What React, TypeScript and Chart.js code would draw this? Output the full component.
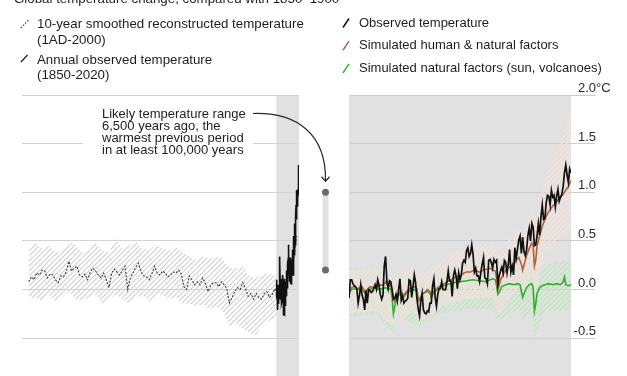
import React, { useEffect, useRef } from 'react';
import { Chart, registerables } from 'chart.js';

Chart.register(...registerables);

// ---------- text ----------
const TITLE = 'Global temperature change, compared with 1850–1900';
const LEFT_LEGEND = [
  ['10-year smoothed reconstructed temperature', '(1AD-2000)'],
  ['Annual observed temperature', '(1850-2020)'],
];
const RIGHT_LEGEND = [
  'Observed temperature',
  'Simulated human & natural factors',
  'Simulated natural factors (sun, volcanoes)',
];
const NOTE = [
  'Likely temperature range',
  '6,500 years ago, the',
  'warmest previous period',
  'in at least 100,000 years',
];

// ---------- axes ----------
const yTicks = [-0.5, 0, 0.5, 1.0, 1.5, 2.0];
const yMin = -0.889;
const yMax = 2.0;
const leftXMin = -50;
const leftXMax = 2020;
const rightXMin = 1850;
const rightXMax = 2020;

// likely range 6,500 years ago
const likelyRange = [0.2, 1.0];

// ---------- reconstructed (10-year smoothed) ----------
const reconYears = [
  0, 20, 40, 60, 80, 100, 120, 140, 160, 180, 200, 220, 240, 260, 280, 300, 320, 340, 360, 380,
  400, 420, 440, 460, 480, 500, 520, 540, 560, 580, 600, 620, 640, 660, 680, 700, 720, 740, 760, 780,
  800, 820, 840, 860, 880, 900, 920, 940, 960, 980, 1000, 1020, 1040, 1060, 1080, 1100, 1120, 1140, 1160, 1180,
  1200, 1220, 1240, 1260, 1280, 1300, 1320, 1340, 1360, 1380, 1400, 1420, 1440, 1460, 1480, 1500, 1520, 1540, 1560, 1580,
  1600, 1620, 1640, 1660, 1680, 1700, 1720, 1740, 1760, 1780, 1800, 1820, 1840, 1860, 1880, 1900, 1920, 1940, 1960, 1980, 2000,
];
const reconValues = [
  0.08, 0.13, 0.10, 0.17, 0.15, 0.20, 0.19, 0.12, 0.16, 0.15, 0.10, 0.07, 0.14, 0.13, 0.18, 0.29, 0.19, 0.22, 0.24, 0.15,
  0.13, 0.16, 0.10, 0.18, 0.22, 0.19, 0.15, 0.12, 0.17, 0.10, 0.02, 0.17, 0.21, 0.18, 0.15, 0.20, 0.24, 0.00, 0.12, 0.17,
  0.23, 0.27, 0.18, 0.14, 0.13, 0.10, 0.16, 0.24, 0.17, 0.15, 0.19, 0.17, 0.13, 0.15, 0.18, 0.17, 0.20, 0.16, 0.03, 0.00,
  0.14, 0.10, 0.05, 0.08, 0.05, 0.12, 0.06, -0.02, 0.04, 0.07, 0.07, 0.03, 0.08, 0.05, 0.01, -0.14, -0.08, -0.02, 0.02, 0.00,
  0.07, 0.01, -0.07, -0.04, -0.10, -0.04, -0.08, -0.10, -0.04, -0.02, -0.08, -0.05, 0.01, -0.07, -0.10, -0.06, 0.02, 0.12, 0.15, 0.30, 0.55,
];
const reconBandYears = [
  0, 50, 100, 150, 200, 250, 300, 350, 400, 450, 500, 550, 600, 650, 700, 750, 800, 850, 900, 950,
  1000, 1050, 1100, 1150, 1200, 1250, 1300, 1350, 1400, 1450, 1500, 1550, 1600, 1650, 1700, 1750, 1800, 1850,
];
const reconUpper = [
  0.40, 0.48, 0.42, 0.45, 0.38, 0.40, 0.50, 0.46, 0.38, 0.42, 0.48, 0.40, 0.38, 0.52, 0.42, 0.45, 0.50, 0.42, 0.40, 0.46,
  0.42, 0.40, 0.44, 0.38, 0.34, 0.30, 0.34, 0.32, 0.34, 0.32, 0.22, 0.22, 0.24, 0.14, 0.12, 0.16, 0.17, 0.14,
];
const reconLower = [
  -0.10, -0.08, -0.12, -0.05, -0.12, -0.08, -0.02, -0.10, -0.12, -0.08, -0.05, -0.15, -0.10, -0.05, -0.10, -0.15, -0.08, -0.06, -0.12, -0.06,
  -0.05, -0.10, -0.08, -0.15, -0.14, -0.18, -0.15, -0.20, -0.18, -0.22, -0.38, -0.35, -0.40, -0.45, -0.47, -0.36, -0.32, -0.28,
];

// ---------- observed annual, 1850-2020 ----------
const obsStartYear = 1850;
const obsValues = [
  -0.09, 0.10, 0.10, 0.06, 0.04, 0.03, 0.01, -0.14, -0.06, 0.05,
  -0.06, -0.10, -0.21, -0.01, -0.14, 0.00, -0.01, -0.03, -0.02, 0.01,
  0.05, 0.00, 0.10, 0.04, -0.05, -0.10, -0.06, 0.24, 0.34, 0.09,
  0.01, 0.09, 0.08, 0.00, -0.10, -0.09, -0.05, -0.12, 0.00, 0.11,
  -0.11, -0.07, -0.14, -0.12, -0.11, -0.09, 0.10, 0.09, -0.08, 0.03,
  0.15, 0.07, -0.09, -0.20, -0.27, -0.12, -0.04, -0.21, -0.24, -0.25,
  -0.22, -0.23, -0.14, -0.14, 0.04, 0.11, -0.08, -0.17, -0.05, 0.01,
  0.01, 0.08, 0.00, 0.00, 0.00, 0.08, 0.19, 0.09, 0.09, -0.07,
  0.14, 0.20, 0.14, 0.01, 0.17, 0.10, 0.15, 0.27, 0.30, 0.28,
  0.40, 0.43, 0.34, 0.37, 0.46, 0.36,
  0.18, 0.22, 0.14, 0.14, 0.08, 0.18, 0.26, 0.33, 0.12, 0.11,
  0.06, 0.30, 0.31, 0.28, 0.22, 0.31, 0.28, 0.30, 0.05, 0.14,
  0.19, 0.23, 0.17, 0.30, 0.28, 0.17, 0.26, 0.41, 0.18, 0.24,
  0.15, 0.43, 0.32, 0.41,
  0.51, 0.55, 0.37, 0.54, 0.39, 0.35, 0.41, 0.56, 0.63, 0.50,
  0.68, 0.64, 0.45, 0.46, 0.55, 0.68, 0.56, 0.75, 0.87, 0.72,
  0.73, 0.89, 0.97, 0.96, 0.87, 1.02, 0.95, 0.97, 0.85, 0.96,
  1.03, 0.91, 0.95, 0.98, 1.06, 1.20, 1.28, 1.18, 1.10, 1.24, 1.20,
];

// ---------- simulated: human & natural ----------
const humYears = [
  1850, 1852, 1854, 1856, 1858, 1860, 1862, 1864, 1866, 1868, 1870, 1872, 1874, 1876, 1878, 1880, 1882, 1884, 1885, 1886,
  1888, 1890, 1892, 1894, 1896, 1898, 1900, 1902, 1903, 1904, 1906, 1908, 1910, 1912, 1913, 1915, 1918, 1920, 1922, 1925,
  1928, 1930, 1932, 1935, 1938, 1940, 1943, 1946, 1948, 1950, 1953, 1956, 1958, 1960, 1962, 1963, 1964, 1965, 1966, 1968,
  1970, 1972, 1974, 1976, 1978, 1980, 1982, 1983, 1984, 1986, 1988, 1990, 1991, 1992, 1993, 1994, 1996, 1998, 2000, 2002,
  2004, 2006, 2008, 2010, 2012, 2014, 2016, 2018, 2020,
];
const humValues = [
  -0.05, 0.02, 0.03, 0.00, 0.02, 0.03, -0.02, 0.00, 0.03, 0.02, 0.04, 0.03, 0.05, 0.04, 0.08, 0.03, 0.05, -0.10, -0.12, -0.06,
  -0.04, -0.02, -0.06, -0.02, 0.00, 0.02, 0.03, 0.01, -0.12, -0.10, -0.05, -0.03, 0.00, -0.02, -0.08, -0.02, 0.02, 0.04, 0.05, 0.08,
  0.10, 0.12, 0.13, 0.14, 0.17, 0.18, 0.18, 0.20, 0.19, 0.18, 0.20, 0.21, 0.22, 0.20, 0.19, 0.12, 0.00, 0.04, 0.10, 0.15,
  0.20, 0.22, 0.24, 0.26, 0.30, 0.33, 0.26, 0.20, 0.25, 0.35, 0.42, 0.48, 0.45, 0.24, 0.30, 0.45, 0.55, 0.65, 0.72, 0.78,
  0.82, 0.86, 0.88, 0.92, 0.95, 0.98, 1.02, 1.06, 1.12,
];
const humBandYears = [1850, 1870, 1884, 1900, 1904, 1920, 1940, 1960, 1964, 1980, 1983, 1990, 1992, 2000, 2010, 2020];
const humUpper = [0.20, 0.22, 0.12, 0.25, 0.15, 0.28, 0.45, 0.50, 0.35, 0.65, 0.55, 0.85, 0.65, 1.15, 1.45, 1.85];
const humLower = [-0.25, -0.22, -0.38, -0.22, -0.35, -0.18, -0.10, -0.08, -0.25, 0.00, -0.05, 0.15, -0.05, 0.35, 0.50, 0.65];

// ---------- simulated: natural only ----------
const natYears = [
  1850, 1852, 1855, 1858, 1860, 1862, 1865, 1868, 1870, 1873, 1876, 1878, 1880, 1882, 1883, 1884, 1885, 1886, 1888, 1890,
  1892, 1894, 1896, 1898, 1900, 1902, 1903, 1904, 1906, 1908, 1910, 1912, 1913, 1915, 1918, 1920, 1925, 1930, 1935, 1940,
  1945, 1950, 1955, 1958, 1960, 1962, 1963, 1964, 1965, 1967, 1970, 1973, 1976, 1979, 1981, 1982, 1983, 1984, 1986, 1988,
  1990, 1991, 1992, 1993, 1994, 1996, 1998, 2000, 2003, 2006, 2009, 2012, 2014, 2015, 2016, 2018, 2020,
];
const natValues = [
  -0.03, 0.00, 0.01, 0.00, 0.02, -0.04, 0.00, 0.01, 0.02, 0.00, 0.01, 0.02, 0.00, 0.01, -0.08, -0.25, -0.18, -0.10, -0.06, -0.04,
  -0.08, -0.04, -0.02, -0.01, 0.00, -0.02, -0.12, -0.10, -0.05, -0.03, -0.02, -0.04, -0.08, -0.03, 0.00, 0.03, 0.05, 0.07, 0.08, 0.09,
  0.10, 0.09, 0.08, 0.10, 0.11, 0.10, 0.04, -0.05, -0.03, 0.03, 0.05, 0.06, 0.05, 0.06, 0.05, -0.02, -0.08, -0.04, 0.02, 0.05,
  0.06, 0.02, -0.22, -0.15, -0.04, 0.02, 0.04, 0.05, 0.06, 0.05, 0.06, 0.05, 0.08, 0.13, 0.05, 0.04, 0.05,
];
const natBandYears = [1850, 1870, 1884, 1890, 1904, 1920, 1940, 1960, 1964, 1980, 1983, 1990, 1992, 2000, 2010, 2020];
const natUpper = [0.22, 0.22, 0.05, 0.18, 0.10, 0.22, 0.28, 0.30, 0.15, 0.28, 0.18, 0.28, 0.05, 0.25, 0.28, 0.32];
const natLower = [-0.28, -0.25, -0.45, -0.30, -0.38, -0.25, -0.20, -0.20, -0.32, -0.20, -0.33, -0.20, -0.50, -0.22, -0.22, -0.20];

// ---------- style ----------
const FONT = '13px "Liberation Sans", Arial, sans-serif';
const FONT_LEFT = '13.3px "Liberation Sans", Arial, sans-serif';
const TEXT = '#1e1e1e';
const GRAY_BG = '#e1e1e1';
const GRID = '#d2d2d2';
const OBS_COLOR = '#111111';
const HUM_COLOR = '#b0623a';
const NAT_COLOR = '#2cb12f';

const pts = (xs: number[], ys: number[]) => xs.map((x, i) => ({ x, y: ys[i] }));

function hatch(color: string, size = 5, lw = 1.2) {
  const c = document.createElement('canvas');
  c.width = size;
  c.height = size;
  const g = c.getContext('2d')!;
  g.strokeStyle = color;
  g.lineWidth = lw;
  g.beginPath();
  g.moveTo(-1, size + 1);
  g.lineTo(size + 1, -1);
  g.moveTo(-1, 1);
  g.lineTo(1, -1);
  g.moveTo(size - 1, size + 1);
  g.lineTo(size + 1, size - 1);
  g.stroke();
  return g.createPattern(c, 'repeat')!;
}

const bandStyle = { borderColor: 'transparent', borderWidth: 0, pointRadius: 0, tension: 0 };
const lineStyle = { pointRadius: 0, tension: 0, fill: false };

function slash(ctx: CanvasRenderingContext2D, x0: number, y0: number, x1: number, y1: number, color: string, dash: number[] = [], lw = 1.4) {
  ctx.save();
  ctx.strokeStyle = color;
  ctx.lineWidth = lw;
  ctx.setLineDash(dash);
  ctx.beginPath();
  ctx.moveTo(x0, y0);
  ctx.lineTo(x1, y1);
  ctx.stroke();
  ctx.restore();
}

const leftDecor = {
  id: 'leftDecor',
  beforeDatasetsDraw(chart: any) {
    const { ctx, chartArea: a, scales } = chart;
    const xs = scales.x;
    const ys = scales.y;
    ctx.save();
    const bx = xs.getPixelForValue(obsStartYear);
    ctx.fillStyle = GRAY_BG;
    ctx.fillRect(bx, a.top, a.right - bx, a.bottom - a.top);
    ctx.strokeStyle = GRID;
    ctx.lineWidth = 1;
    for (const v of yTicks) {
      const py = Math.floor(ys.getPixelForValue(v)) + 0.5;
      ctx.beginPath();
      ctx.moveTo(a.left, py);
      ctx.lineTo(a.right, py);
      ctx.stroke();
    }
    // white box behind the note
    ctx.fillStyle = '#ffffff';
    ctx.fillRect(83, 104, 170, 54);
    ctx.restore();
  },
  afterDatasetsDraw(chart: any) {
    const { ctx, chartArea: a, scales } = chart;
    const ys = scales.y;
    ctx.save();
    ctx.font = FONT_LEFT;
    ctx.fillStyle = TEXT;
    ctx.textAlign = 'left';
    // title (cut at top)
    ctx.textBaseline = 'alphabetic';
    ctx.fillText(TITLE, 14, 3);
    ctx.textBaseline = 'middle';
    // legend
    ctx.fillText(LEFT_LEGEND[0][0], 37, 24);
    ctx.fillText(LEFT_LEGEND[0][1], 37, 40);
    ctx.fillText(LEFT_LEGEND[1][0], 37, 60.5);
    ctx.fillText(LEFT_LEGEND[1][1], 37, 75.5);
    slash(ctx, 21, 28, 28.5, 20, '#555', [1.6, 1.4], 1.2);
    slash(ctx, 21, 62, 27.5, 55, '#222', [], 1.3);
    // note
    ctx.font = FONT;
    NOTE.forEach((t, i) => ctx.fillText(t, 102, 114.5 + i * 12));
    // arrow
    const rx = a.right + 26.5;
    const yTop = ys.getPixelForValue(likelyRange[1]);
    const yBot = ys.getPixelForValue(likelyRange[0]);
    ctx.strokeStyle = '#2a2a2a';
    ctx.lineWidth = 1.2;
    ctx.beginPath();
    ctx.moveTo(253, 113.5);
    ctx.bezierCurveTo(298, 112, rx + 1, 135, rx, yTop - 11);
    ctx.stroke();
    ctx.beginPath();
    ctx.moveTo(rx - 4, yTop - 15.5);
    ctx.lineTo(rx, yTop - 11);
    ctx.lineTo(rx + 4, yTop - 15.5);
    ctx.stroke();
    // likely range bar
    ctx.fillStyle = '#e0e0e0';
    ctx.fillRect(rx - 3, yTop, 6, yBot - yTop);
    ctx.fillStyle = '#6b6b6b';
    for (const py of [yTop, yBot]) {
      ctx.beginPath();
      ctx.arc(rx, py, 3.5, 0, Math.PI * 2);
      ctx.fill();
    }
    ctx.restore();
  },
};

const rightDecor = {
  id: 'rightDecor',
  beforeDatasetsDraw(chart: any) {
    const { ctx, chartArea: a, scales } = chart;
    const ys = scales.y;
    ctx.save();
    ctx.fillStyle = GRAY_BG;
    ctx.fillRect(a.left, a.top, a.right - a.left, a.bottom - a.top);
    ctx.strokeStyle = '#cdcdcd';
    ctx.lineWidth = 1;
    for (const v of yTicks) {
      const py = Math.floor(ys.getPixelForValue(v)) + 0.5;
      ctx.beginPath();
      ctx.moveTo(a.left, py);
      ctx.lineTo(a.right + 24, py);
      ctx.stroke();
    }
    ctx.restore();
  },
  afterDraw(chart: any) {
    const { ctx, chartArea: a, scales } = chart;
    const ys = scales.y;
    ctx.save();
    ctx.font = FONT;
    ctx.fillStyle = '#2a2a2a';
    ctx.textBaseline = 'alphabetic';
    const lx = a.right + 25;
    for (const v of yTicks) {
      const py = ys.getPixelForValue(v) - 3;
      ctx.textAlign = 'right';
      ctx.fillText(v.toFixed(1), lx, py);
      if (v === yMax) {
        ctx.textAlign = 'left';
        ctx.fillText('°C', lx, py);
      }
    }
    // legend
    ctx.fillStyle = TEXT;
    ctx.textAlign = 'left';
    ctx.textBaseline = 'middle';
    const colors = [OBS_COLOR, HUM_COLOR, NAT_COLOR];
    RIGHT_LEGEND.forEach((t, i) => {
      const cy = 23 + i * 22.7;
      ctx.fillText(t, a.left + 10, cy);
      slash(ctx, a.left - 6, cy + 4.5, a.left, cy - 4.5, colors[i], [], 1.5);
    });
    ctx.restore();
  },
};

export default function App() {
  const leftRef = useRef<HTMLCanvasElement>(null);
  const rightRef = useRef<HTMLCanvasElement>(null);

  useEffect(() => {
    document.body.style.margin = '0';
    const common = {
      animation: false as const,
      responsive: false,
      maintainAspectRatio: false,
      events: [] as any[],
      plugins: { legend: { display: false }, tooltip: { enabled: false } },
    };

    const left = new Chart(leftRef.current!, {
      type: 'line',
      data: {
        datasets: [
          { data: pts(obsValues.map((_, i) => obsStartYear + i), obsValues), borderColor: OBS_COLOR, borderWidth: 1.6, ...lineStyle },
          { data: pts(reconYears, reconValues), borderColor: '#3c3c3c', borderWidth: 1.1, borderDash: [2, 1.5], ...lineStyle },
          { data: pts(reconBandYears, reconUpper), ...bandStyle, fill: '+1', backgroundColor: hatch('#d0d0d0') },
          { data: pts(reconBandYears, reconLower), ...bandStyle, fill: false },
        ] as any,
      },
      options: {
        ...common,
        layout: { padding: { left: 22, right: 41, top: 95, bottom: 0 } },
        scales: {
          x: { type: 'linear', min: leftXMin, max: leftXMax, display: false },
          y: { type: 'linear', min: yMin, max: yMax, display: false },
        },
      } as any,
      plugins: [leftDecor],
    });

    const right = new Chart(rightRef.current!, {
      type: 'line',
      data: {
        datasets: [
          { data: pts(obsValues.map((_, i) => obsStartYear + i), obsValues), borderColor: OBS_COLOR, borderWidth: 1.7, ...lineStyle },
          { data: pts(humYears, humValues), borderColor: HUM_COLOR, borderWidth: 1.6, ...lineStyle },
          { data: pts(natYears, natValues), borderColor: NAT_COLOR, borderWidth: 1.6, ...lineStyle },
          { data: pts(humBandYears, humUpper), ...bandStyle, fill: '+1', backgroundColor: hatch('#f6e2d8', 5, 1.3) },
          { data: pts(humBandYears, humLower), ...bandStyle, fill: false },
          { data: pts(natBandYears, natUpper), ...bandStyle, fill: '+1', backgroundColor: hatch('#bfe8ba', 5, 1.3) },
          { data: pts(natBandYears, natLower), ...bandStyle, fill: false },
        ] as any,
      },
      options: {
        ...common,
        layout: { padding: { left: 9, right: 56, top: 95, bottom: 0 } },
        scales: {
          x: { type: 'linear', min: rightXMin, max: rightXMax, display: false },
          y: { type: 'linear', min: yMin, max: yMax, display: false },
        },
      } as any,
      plugins: [rightDecor],
    });

    return () => {
      left.destroy();
      right.destroy();
    };
  }, []);

  return (
    <div style={{ position: 'fixed', left: 0, top: 0, width: 627, height: 376, overflow: 'hidden', background: '#fff' }}>
      <canvas ref={leftRef} width={340} height={376} style={{ position: 'absolute', left: 0, top: 0, width: 340, height: 376 }} />
      <canvas ref={rightRef} width={287} height={376} style={{ position: 'absolute', left: 340, top: 0, width: 287, height: 376 }} />
    </div>
  );
}
